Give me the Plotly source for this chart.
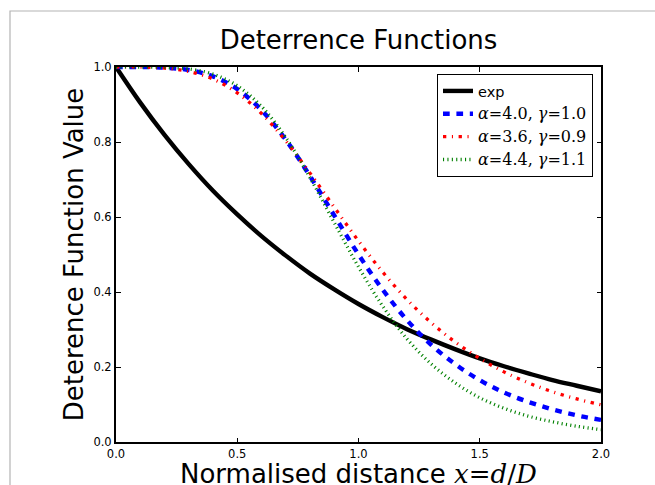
import plotly.graph_objects as go

# ---- data ----
x_vals = [0.0, 0.1, 0.2, 0.3, 0.4, 0.5, 0.6, 0.7, 0.8, 0.9, 1.0,
          1.1, 1.2, 1.3, 1.4, 1.5, 1.6, 1.7, 1.8, 1.9, 2.0]
exp_vals = [1.000, 0.905, 0.819, 0.741, 0.670, 0.607, 0.549, 0.497, 0.449, 0.407, 0.368,
            0.333, 0.301, 0.273, 0.247, 0.223, 0.202, 0.183, 0.165, 0.150, 0.135]
a40_g10 = [1.000, 1.000, 0.998, 0.992, 0.975, 0.941, 0.885, 0.806, 0.709, 0.604, 0.500,
           0.406, 0.325, 0.259, 0.207, 0.165, 0.132, 0.107, 0.087, 0.071, 0.059]
a36_g09 = [1.000, 1.000, 0.997, 0.988, 0.968, 0.931, 0.876, 0.803, 0.717, 0.626, 0.536,
           0.453, 0.380, 0.318, 0.266, 0.223, 0.187, 0.158, 0.134, 0.115, 0.099]
a44_g11 = [1.000, 1.000, 0.999, 0.995, 0.981, 0.950, 0.895, 0.812, 0.705, 0.585, 0.467,
           0.362, 0.275, 0.208, 0.157, 0.118, 0.090, 0.069, 0.054, 0.042, 0.033]

x_ticks = [0.0, 0.5, 1.0, 1.5, 2.0]
x_tick_labels = ["0.0", "0.5", "1.0", "1.5", "2.0"]
y_ticks = [0.0, 0.2, 0.4, 0.6, 0.8, 1.0]
y_tick_labels = ["0.0", "0.2", "0.4", "0.6", "0.8", "1.0"]

x_title = ("Normalised distance <span style=\"font-family:'DejaVu Serif'\">"
           "<i>x</i>=<i>d</i>/<i>D</i></span>")
y_title = "Deterence Function Value"
chart_title = "Deterrence Functions"

SERIF = "font-family:'DejaVu Serif';font-size:16px"
def mlabel(a, g):
    return (f"<span style=\"{SERIF}\"><i>α</i>={a}, <i>γ</i>={g}</span>")

series = [
    ("exp", exp_vals, "black", 4.4, "solid"),
    (mlabel("4.0", "1.0"), a40_g10, "blue", 4.4, "6.7px,6.7px"),
    (mlabel("3.6", "0.9"), a36_g09, "red", 3.3, "3.3px,5.6px,1.1px,5.6px"),
    (mlabel("4.4", "1.1"), a44_g11, "green", 3.3, "1.1px,3.3px"),
]

fig = go.Figure()
for i, (name, ys, col, w, dash) in enumerate(series):
    fig.add_trace(go.Scatter(
        x=x_vals, y=ys, mode="lines", name=name, legendgroup=f"g{i}",
        line=dict(color=col, width=w, dash=dash, shape="spline", smoothing=1.0),
    ))

W, H = 655, 485
L, R, T, B = 116, 54, 67, 43
pw, ph = W - L - R, H - T - B

fig.update_layout(
    width=W, height=H,
    margin=dict(l=L, r=R, t=T, b=B, autoexpand=False),
    paper_bgcolor="white", plot_bgcolor="white",
    font=dict(family="DejaVu Sans", color="black", size=12),
    title=dict(text=chart_title, x=(L + pw / 2) / W, xanchor="center",
               y=1 - 40 / H, yanchor="middle", yref="container",
               font=dict(size=26, family="DejaVu Sans")),
    showlegend=True,
    legend=dict(x=(593 - L) / pw, xanchor="right", y=1 - (74 - T) / ph, yanchor="top",
                bgcolor="white", bordercolor="black", borderwidth=1,
                font=dict(size=14.5, family="DejaVu Sans"),
                tracegroupgap=1, traceorder="grouped"),
    xaxis=dict(range=[0, 2], tickvals=x_ticks, ticktext=x_tick_labels, automargin=False,
               showgrid=False, zeroline=False, showline=True, linecolor="black",
               linewidth=2, mirror="ticks", ticks="inside", ticklen=4.5, tickwidth=1,
               tickcolor="black", tickfont=dict(size=11.5)),
    yaxis=dict(range=[0, 1], tickvals=y_ticks, ticktext=y_tick_labels, automargin=False,
               showgrid=False, zeroline=False, showline=True, linecolor="black",
               linewidth=2, mirror="ticks", ticks="inside", ticklen=4.5, tickwidth=1,
               tickcolor="black", tickfont=dict(size=11.5),
               title=dict(text=y_title, font=dict(size=26), standoff=2)),
    annotations=[dict(text=x_title, xref="paper", yref="paper", x=0.5,
                      y=-(474 - (H - B)) / ph, xanchor="center", yanchor="middle",
                      showarrow=False, font=dict(size=26, family="DejaVu Sans"))],
    shapes=[dict(type="rect", xref="paper", yref="paper",
                 x0=(10 - L) / pw, x1=(W + 20 - L) / pw,
                 y0=-(H + 20 - T - ph) / ph, y1=(H - B - 11) / ph,
                 line=dict(color="#b4b4b4", width=1.2), fillcolor="rgba(0,0,0,0)",
                 layer="below")],
)

fig.write_html("out.html", config={"displayModeBar": False},
               post_script="document.body.style.margin='0';document.body.style.overflow='hidden';")
